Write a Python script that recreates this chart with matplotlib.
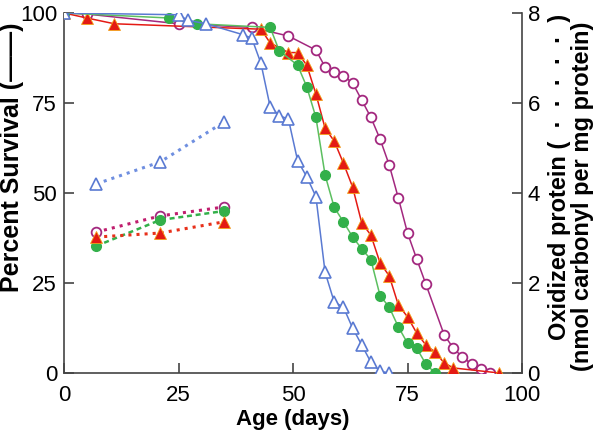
import matplotlib
matplotlib.use("Agg")
import matplotlib.pyplot as plt

plt.rcParams['font.family'] = ['Liberation Sans', 'DejaVu Sans']

# Survival data (days, percent)
blue_days = [0, 25, 27, 31, 39, 41, 43, 45, 47, 49, 51, 53, 55, 57, 59, 61, 63, 65, 67, 69, 71]
blue_surv = [100, 99.5, 98, 97, 94, 93, 86, 74, 71.5, 70.5, 59, 54.5, 49, 28, 19.7, 18.3, 12.5, 7.8, 3, 0.5, 0]

green_days = [0, 23, 29, 45, 47, 51, 53, 55, 57, 59, 61, 63, 65, 67, 69, 71, 73, 75, 77, 79, 81]
green_surv = [100, 98.6, 97, 96, 89.5, 85.5, 79.5, 71, 55, 46, 42, 37.8, 34.5, 31.5, 21.5, 18.3, 12.8, 8.3, 6.9, 2.5, 0]

red_days = [0, 5, 11, 43, 45, 49, 51, 53, 55, 57, 59, 61, 63, 65, 67, 69, 71, 73, 75, 77, 79, 81, 83, 85, 95]
red_surv = [100, 98.6, 97, 95.5, 91.7, 89, 89, 85.5, 77.5, 68, 64.4, 58.3, 51.7, 41.7, 38.3, 30.6, 27, 18.9, 15.6, 11.1, 7.8, 5.8, 2.8, 1.4, 0]

mag_days = [0, 5, 25, 41, 49, 55, 57, 59, 61, 63, 65, 67, 69, 71, 73, 75, 77, 79, 83, 85, 87, 89, 91, 93]
mag_surv = [100, 99.7, 97, 96, 93.6, 89.7, 85, 83.6, 82.5, 80.6, 75.8, 71, 65, 57.8, 48.6, 38.9, 31.7, 24.7, 10.6, 6.9, 4.4, 2.5, 1.1, 0]

# Oxidized protein (days, nmol carbonyl per mg protein)
ox_days = [7, 21, 35]
blue_ox = [4.2, 4.69, 5.58]
mag_ox = [3.13, 3.49, 3.69]
green_ox = [2.82, 3.4, 3.6]
red_ox = [3.02, 3.11, 3.36]

x_ticks = [0, 25, 50, 75, 100]
y_ticks = [0, 25, 50, 75, 100]
y2_ticks = [0, 2, 4, 6, 8]

c_blue = '#5a7ad2'
c_green = '#33b04a'
c_red = '#e41a14'
c_mag = '#a3287f'

fig = plt.figure(figsize=(6, 4.34), dpi=100)
ax = fig.add_axes([0.1067, 0.1406, 0.7633, 0.8295])
ax2 = ax.twinx()

lw = 1.1
ms = 7
ax.plot(mag_days, mag_surv, '-', color=c_mag, lw=lw, marker='o', ms=ms,
        mfc='white', mec=c_mag, mew=1.3, zorder=3)
ax.plot(red_days, red_surv, '-', color=c_red, lw=lw, marker='^', ms=ms + 1,
        mfc=c_red, mec='#f4a21a', mew=0.6, zorder=4)
ax.plot(green_days, green_surv, '-', color='#5cbf60', lw=lw, marker='o', ms=ms,
        mfc=c_green, mec=c_green, zorder=5)
ax.plot(blue_days, blue_surv, '-', color=c_blue, lw=lw, marker='^', ms=ms + 1,
        mfc='white', mec=c_blue, mew=1.2, zorder=6)

ax2.plot(ox_days, blue_ox, ':', color='#6f8fe0', lw=2.2, marker='^', ms=ms + 1,
         mfc='white', mec=c_blue, mew=1.2)
ax2.plot(ox_days, mag_ox, ':', color='#c01e6e', lw=2.2, marker='o', ms=ms,
         mfc='white', mec=c_mag, mew=1.3)
ax2.plot(ox_days, green_ox, '--', color=c_green, lw=1.8, dashes=(2, 1.5), marker='o', ms=ms,
         mfc=c_green, mec=c_green)
ax2.plot(ox_days, red_ox, ':', color='#e8301a', lw=2.2, marker='^', ms=ms + 1,
         mfc=c_red, mec='#f4a21a', mew=0.6)

ax.set_xlim(0, 100)
ax.set_ylim(0, 100)
ax2.set_ylim(0, 8)
ax.set_xticks(x_ticks)
ax.set_yticks(y_ticks)
ax2.set_yticks(y2_ticks)

for a in (ax, ax2):
    a.spines['top'].set_visible(False)
    for s in a.spines.values():
        s.set_color('#444444')
        s.set_linewidth(1.2)
ax.spines['right'].set_visible(False)
ax2.spines['left'].set_visible(False)
ax2.spines['bottom'].set_visible(False)

ax.tick_params(axis='both', direction='in', length=7, width=1.2, color='#444444',
               labelsize=16, pad=5)
ax.tick_params(axis='x', pad=9)
ax2.tick_params(axis='y', direction='in', length=7, width=1.2, color='#444444',
                labelsize=16, pad=4)

ax.set_xlabel('Age (days)', fontsize=16, fontweight='bold', labelpad=2)

# Left axis label (placed in pixel-based axes coordinates)
ax.text(-0.1125, 0.60, 'Percent Survival (\u2014\u2014)', transform=ax.transAxes,
        rotation=90, ha='center', va='center', fontsize=18, fontweight='bold')
# Right axis label, two lines
ax.text(1.0812, 0.545, 'Oxidized protein (  \u00b7  \u00b7  \u00b7  \u00b7  \u00b7  )',
        transform=ax.transAxes, rotation=90, ha='center', va='center',
        fontsize=17, fontweight='bold')
ax.text(1.1315, 0.49, '(nmol carbonyl per mg protein)',
        transform=ax.transAxes, rotation=90, ha='center', va='center',
        fontsize=17, fontweight='bold')

fig.savefig('out.png', dpi=100)
